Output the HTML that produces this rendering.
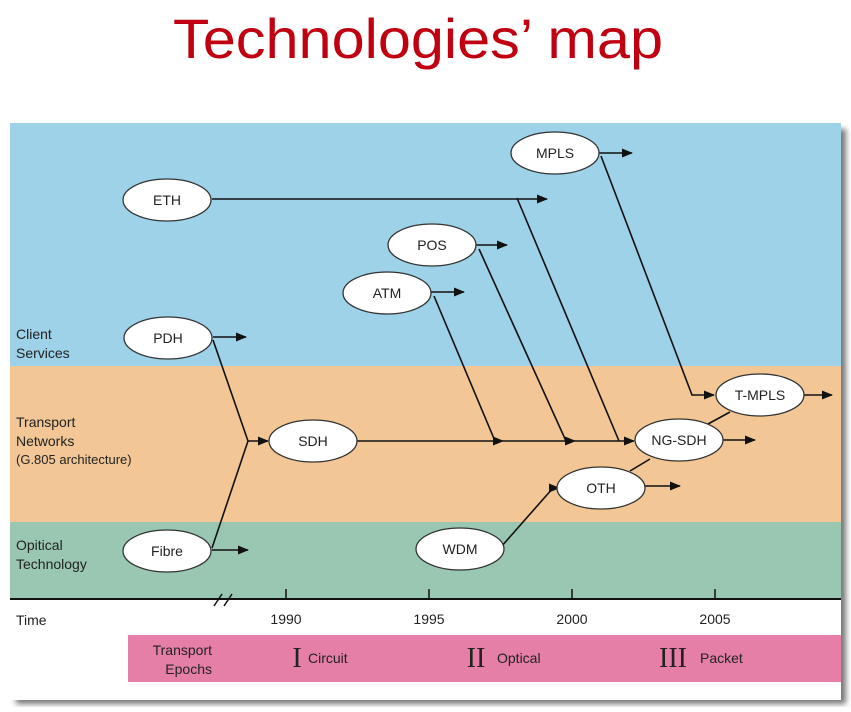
<!DOCTYPE html>
<html><head><meta charset="utf-8"><style>
body{margin:0;width:851px;height:707px;background:#fff;overflow:hidden;font-family:"Liberation Sans",sans-serif}
</style></head><body>
<svg width="851" height="707" viewBox="0 0 851 707" xmlns="http://www.w3.org/2000/svg">
<defs>
<marker id="ah" viewBox="0 0 10 10" refX="9" refY="5" markerWidth="7" markerHeight="7" orient="auto"><path d="M0,1 L10,5 L0,9 z" fill="#111"/></marker>
<filter id="sh" x="-5%" y="-5%" width="110%" height="110%"><feGaussianBlur stdDeviation="3"/></filter>
</defs>
<text x="418" y="58" text-anchor="middle" font-size="56" textLength="490" lengthAdjust="spacingAndGlyphs" fill="#c00010">Technologies’ map</text>
<rect x="16" y="129" width="830" height="575" fill="#777" filter="url(#sh)"/>
<rect x="10" y="123" width="831" height="577" fill="#fff"/>
<rect x="10" y="123" width="831" height="243" fill="#9dd2e8"/>
<rect x="10" y="366" width="831" height="156" fill="#f2c795"/>
<rect x="10" y="522" width="831" height="77" fill="#99c7b2"/>
<line x1="10" y1="599" x2="841" y2="599" stroke="#111" stroke-width="2"/>
<g font-size="14" fill="#222">
<text x="16" y="339">Client</text><text x="16" y="358">Services</text>
<text x="16" y="427">Transport</text><text x="16" y="446">Networks</text><text x="16" y="464" font-size="13">(G.805 architecture)</text>
<text x="16" y="550">Opitical</text><text x="16" y="569">Technology</text>
<text x="16" y="625">Time</text>
</g>
<g stroke="#111" stroke-width="1.5"><line x1="214" y1="606" x2="222" y2="594"/><line x1="224" y1="606" x2="232" y2="594"/></g>
<g id="ticks"></g>
<rect x="128" y="635" width="713" height="47" fill="#e57fa7"/>
<g font-size="14" fill="#222">
<text x="212" y="655" text-anchor="end">Transport</text><text x="212" y="674" text-anchor="end">Epochs</text>
<text x="297" y="667" font-family="Liberation Serif" font-size="28" text-anchor="middle">I</text><text x="308" y="663">Circuit</text>
<text x="476" y="667" font-family="Liberation Serif" font-size="28" text-anchor="middle">II</text><text x="497" y="663">Optical</text>
<text x="673" y="667" font-family="Liberation Serif" font-size="28" text-anchor="middle">III</text><text x="700" y="663">Packet</text>
</g>
<g stroke="#111" stroke-width="1.6" fill="none">
<line x1="212" y1="199" x2="547" y2="199" marker-end="url(#ah)"/>
<line x1="599" y1="153" x2="632" y2="153" marker-end="url(#ah)"/>
<line x1="476" y1="245" x2="507" y2="245" marker-end="url(#ah)"/>
<line x1="431" y1="292" x2="464" y2="292" marker-end="url(#ah)"/>
<line x1="213" y1="337" x2="246" y2="337" marker-end="url(#ah)"/>
<line x1="212" y1="550" x2="248" y2="550" marker-end="url(#ah)"/>
<polyline points="213,340 248,441 212,548"/>
<line x1="248" y1="441" x2="268" y2="441" marker-end="url(#ah)"/>
<line x1="357" y1="441" x2="503" y2="441" marker-end="url(#ah)"/>
<line x1="503" y1="441" x2="575" y2="441" marker-end="url(#ah)"/>
<line x1="575" y1="441" x2="634" y2="441" marker-end="url(#ah)"/>
<line x1="434" y1="296" x2="495" y2="441"/>
<line x1="479" y1="249" x2="566" y2="441"/>
<line x1="517" y1="198" x2="619" y2="441"/>
<polyline points="601,156 692,395 714,395" marker-end="url(#ah)"/>
<line x1="804" y1="395" x2="832" y2="395" marker-end="url(#ah)"/>
<line x1="723" y1="440" x2="755" y2="440" marker-end="url(#ah)"/>
<line x1="708" y1="424" x2="730" y2="412"/>
<line x1="645" y1="486" x2="680" y2="486" marker-end="url(#ah)"/>
<line x1="630" y1="471" x2="650" y2="459"/>
<polyline points="501,547 553,488 559,488" marker-end="url(#ah)"/>
</g>
<g id="nodes"></g>
</svg>
<script>
const years=[1990,1995,2000,2005];
const nodeNames=["ETH","MPLS","POS","ATM","PDH","SDH","T-MPLS","NG-SDH","OTH","Fibre","WDM"];
const nodeCx=[167,555,432,387,168,313,760,679,601,167,460];
const nodeCy=[200,153,245,293,338,441,395,440,488,551,549];
const NS="http://www.w3.org/2000/svg";
const xs=y=>286+(y-1990)*28.6;
const tg=document.getElementById('ticks');
years.forEach(y=>{
 const l=document.createElementNS(NS,'line');
 l.setAttribute('x1',xs(y));l.setAttribute('x2',xs(y));l.setAttribute('y1',589);l.setAttribute('y2',599);
 l.setAttribute('stroke','#111');l.setAttribute('stroke-width','1.5');
 
 
 tg.appendChild(l);
 const t=document.createElementNS(NS,'text');
 t.setAttribute('x',xs(y));t.setAttribute('y',624);t.setAttribute('text-anchor','middle');t.setAttribute('font-size','14');t.setAttribute('fill','#222');
 t.textContent=y;
 
 
 tg.appendChild(t);
});
const ng=document.getElementById('nodes');
nodeNames.forEach((n,i)=>{
 const g=document.createElementNS(NS,'g');
 
 
 const e=document.createElementNS(NS,'ellipse');
 e.setAttribute('cx',nodeCx[i]);e.setAttribute('cy',nodeCy[i]);e.setAttribute('rx',44);e.setAttribute('ry',21);
 e.setAttribute('fill','#fff');e.setAttribute('stroke','#333');e.setAttribute('stroke-width','1.3');
 g.appendChild(e);
 const t=document.createElementNS(NS,'text');
 t.setAttribute('x',nodeCx[i]);t.setAttribute('y',nodeCy[i]+5);t.setAttribute('text-anchor','middle');t.setAttribute('font-size','14');t.setAttribute('fill','#222');
 t.textContent=n;g.appendChild(t);
 ng.appendChild(g);
});
</script>
</body></html>
